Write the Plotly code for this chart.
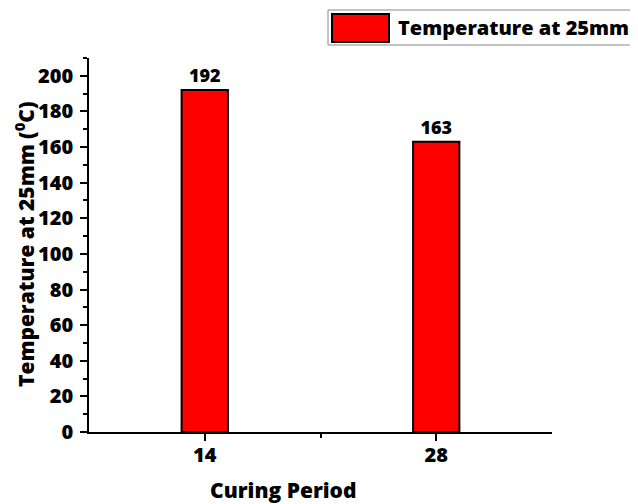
import plotly.graph_objects as go

categories = ["14", "28"]
temperature = [192, 163]
series_name = "Temperature at 25mm"
x_title = "Curing Period"
y_title = "Temperature at 25mm (<sup>0</sup>C)"

positions = list(range(len(categories)))

FONT = "Open Sans"
WT = 800

fig = go.Figure()
fig.add_trace(go.Bar(
    x=positions, y=temperature, width=0.2,
    marker=dict(color="#ff0000", line=dict(color="black", width=2)),
    text=[str(v) for v in temperature], textposition="outside",
    textfont=dict(family=FONT, size=18, color="black", weight=WT),
    cliponaxis=False, showlegend=False, name=series_name,
))

# page offset of the figure inside the browser window
OFF = 7
W, H = 631, 496
L = 88 - OFF
T = 57 - OFF
R = W - (551 - OFF)
B = H - (431 - OFF)
pw, ph = W - L - R, H - T - B

def px_x(x):
    return (x - OFF - L) / pw

def px_y(y):
    return (H - B - (y - OFF)) / ph

fig.update_layout(
    template="none",
    width=W, height=H,
    margin=dict(l=L, r=R, t=T, b=B, autoexpand=False),
    plot_bgcolor="white", paper_bgcolor="white",
    font=dict(family=FONT, color="black"),
    xaxis=dict(
        automargin=False,
        range=[-0.5, 1.5], tickmode="array", tickvals=positions, ticktext=categories,
        showline=True, linecolor="black", linewidth=1.5, mirror=False,
        ticks="outside", ticklen=7, tickwidth=1.5, tickcolor="black",
        minor=dict(tickmode="array", tickvals=[0.5], ticks="outside", ticklen=4,
                   tickwidth=1.5, tickcolor="black"),
        showgrid=False, zeroline=False, ticklabelstandoff=-3,
        tickfont=dict(family=FONT, size=20, color="black", weight=WT),
    ),
    yaxis=dict(
        automargin=False,
        range=[0, 210], dtick=20, tick0=0,
        showline=True, linecolor="black", linewidth=1.5, mirror=False,
        ticks="outside", ticklen=7, tickwidth=1.5, tickcolor="black",
        minor=dict(dtick=10, ticks="outside", ticklen=4, tickwidth=1.5, tickcolor="black"),
        showgrid=False, zeroline=False, ticklabelstandoff=3,
        tickfont=dict(family=FONT, size=20, color="black", weight=WT),
    ),
    shapes=[
        dict(type="rect", xref="paper", yref="paper",
             x0=px_x(327), x1=px_x(660), y0=px_y(44), y1=px_y(9),
             line=dict(color="#888888", width=1), fillcolor="white", layer="below"),
        dict(type="rect", xref="paper", yref="paper",
             x0=px_x(331), x1=px_x(388), y0=px_y(41), y1=px_y(13),
             line=dict(color="black", width=2), fillcolor="#ff0000"),
    ],
    annotations=[
        dict(text=series_name, xref="paper", yref="paper",
             x=px_x(395), y=px_y(27), xanchor="left", yanchor="middle", showarrow=False,
             font=dict(family=FONT, size=20, color="black", weight=WT)),
        dict(text=x_title, xref="paper", yref="paper",
             x=px_x(282), y=px_y(489), xanchor="center", yanchor="middle", showarrow=False,
             font=dict(family=FONT, size=21, color="black", weight=WT)),
        dict(text=y_title, xref="paper", yref="paper", textangle=-90,
             x=px_x(23), y=px_y(244), xanchor="center", yanchor="middle", showarrow=False,
             font=dict(family=FONT, size=21, color="black", weight=WT)),
    ],
)

fig.write_html("out.html")
